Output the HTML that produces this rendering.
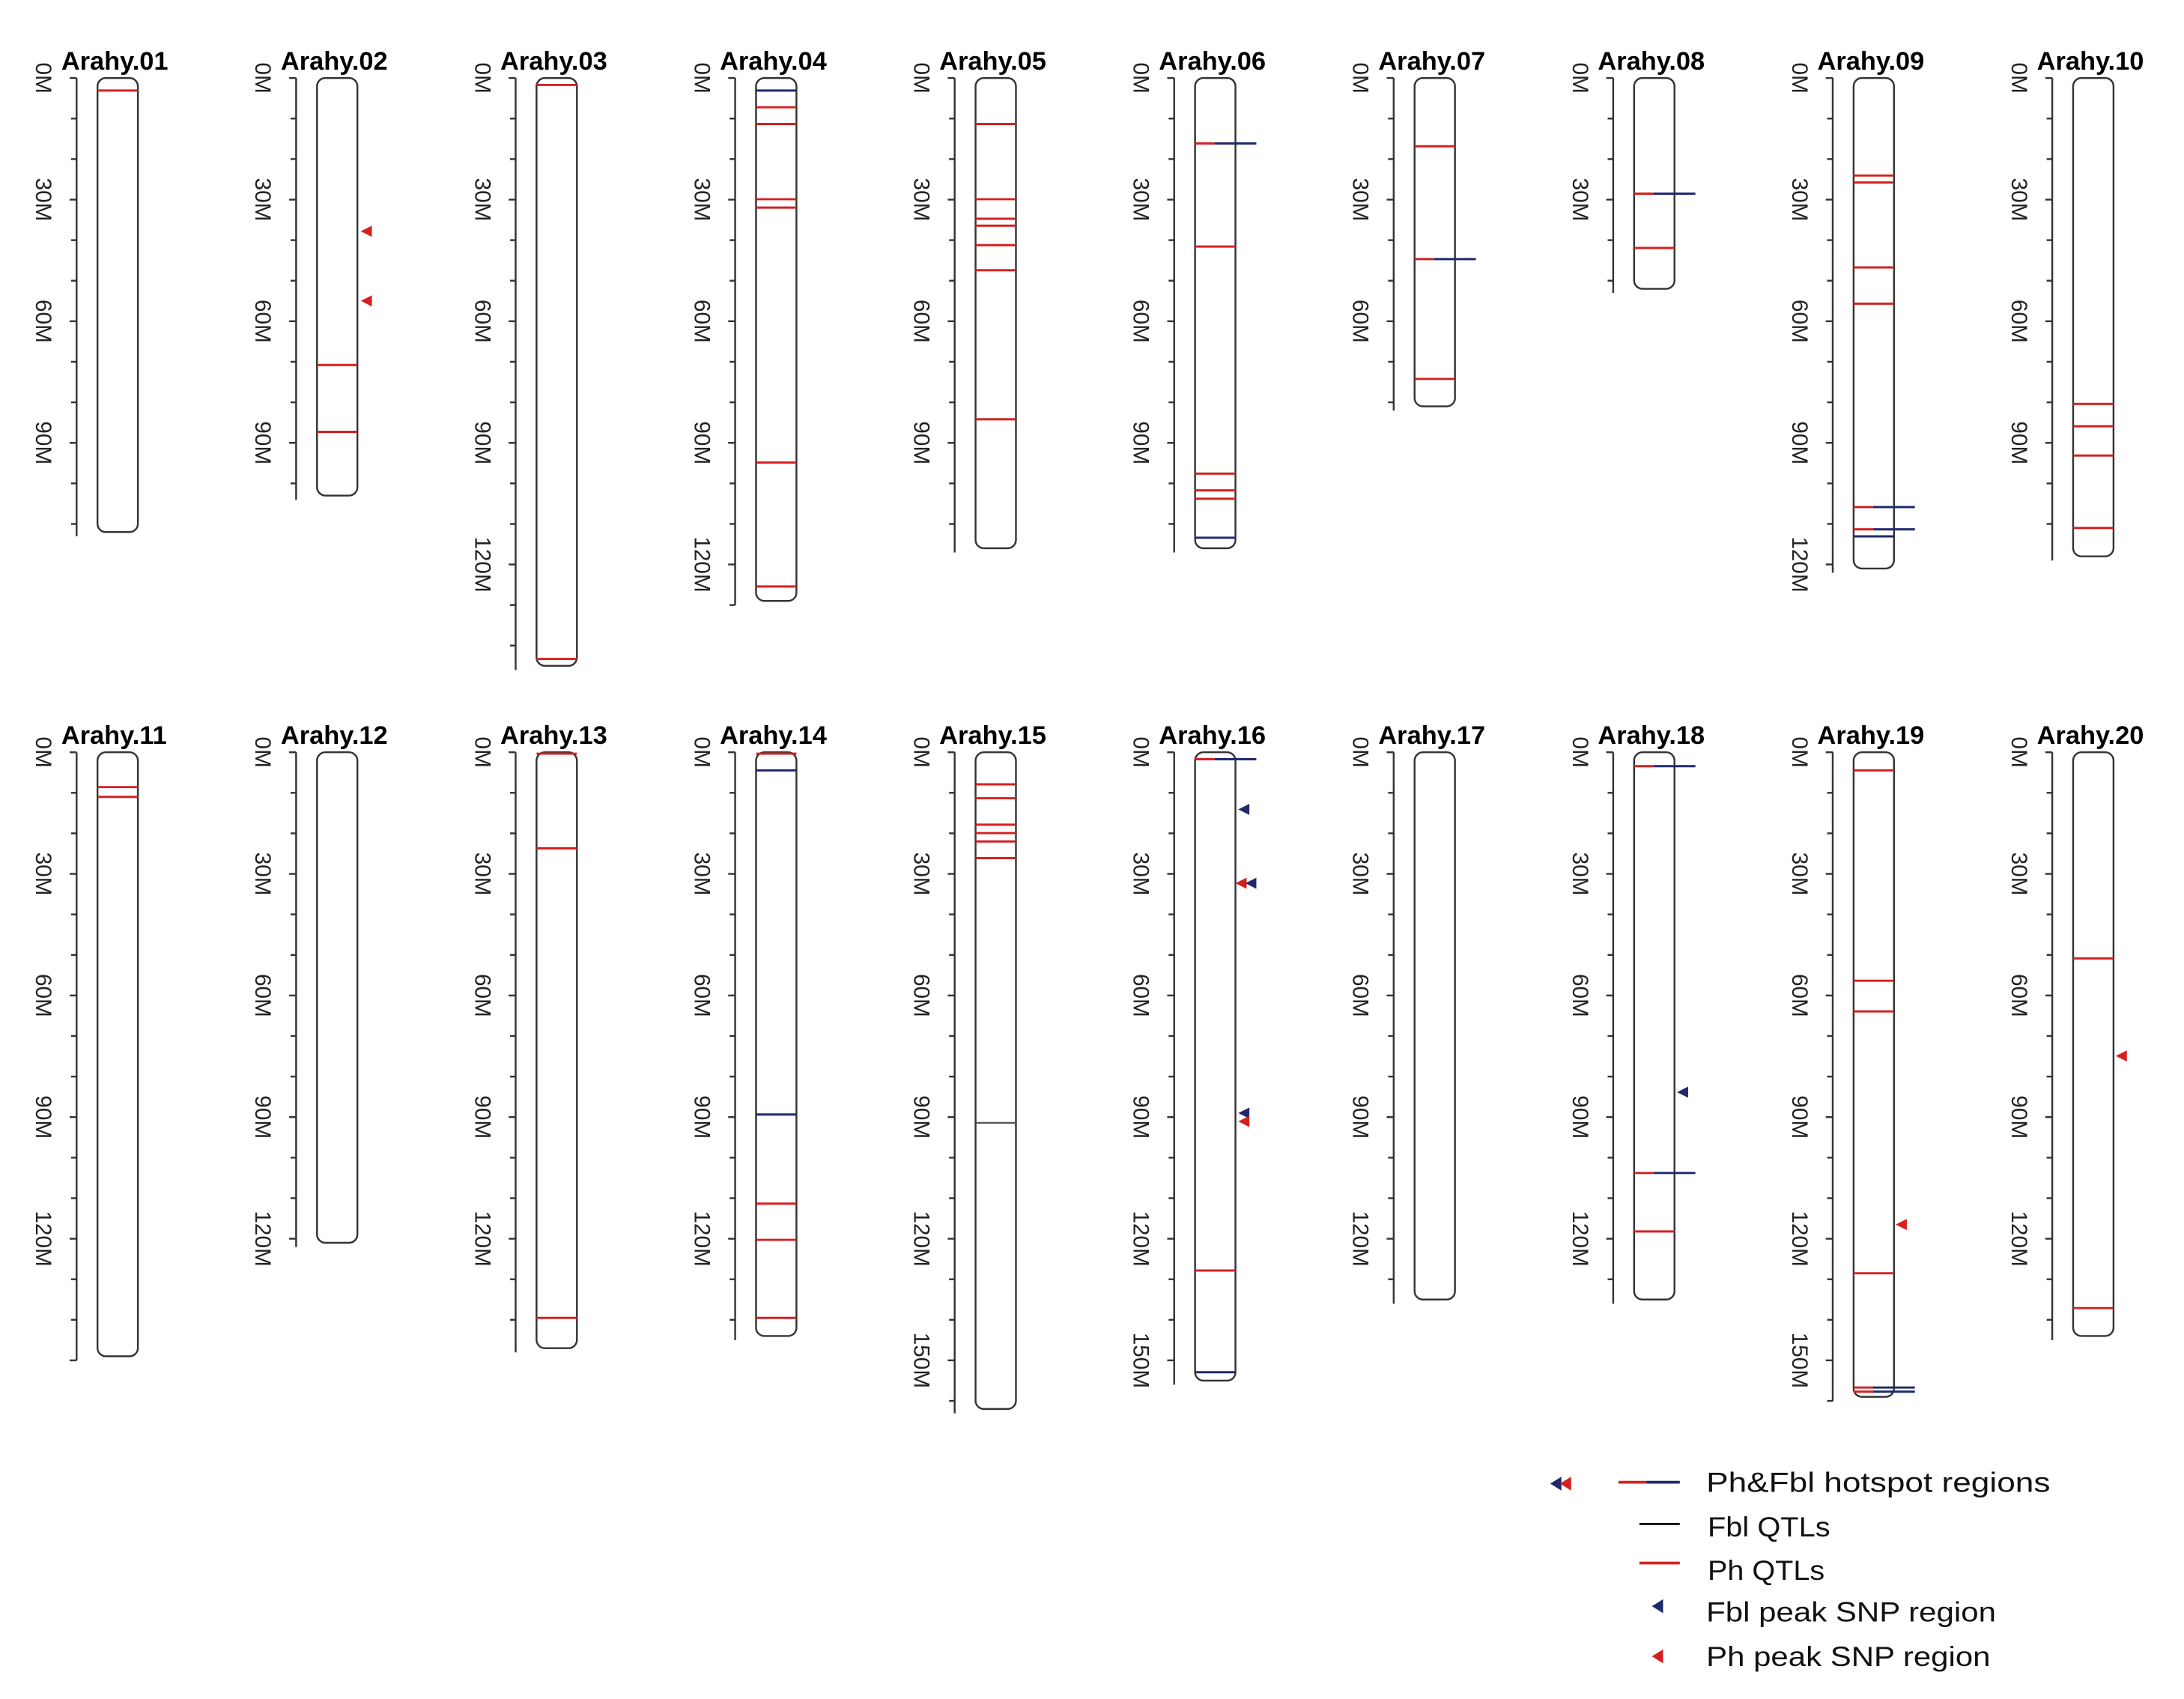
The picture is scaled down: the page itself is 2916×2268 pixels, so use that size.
<!DOCTYPE html>
<html><head><meta charset="utf-8"><style>
html,body{margin:0;padding:0;background:#fff;}
svg{display:block;}
.t{font-family:"Liberation Sans",Arial,sans-serif;font-weight:bold;font-size:18.5px;fill:#000;}
.l{font-family:"Liberation Sans",Arial,sans-serif;font-size:16px;fill:#222;}
.g{font-family:"Liberation Sans",Arial,sans-serif;font-size:20px;fill:#111;}
</style></head><body>
<svg id="s" width="2916" height="2268" viewBox="0 0 1568 1219.6" preserveAspectRatio="none" xmlns="http://www.w3.org/2000/svg">
<rect width="1568" height="1220" fill="#fff"/>
<g id="shapes"></g>
<text class="t" x="44" y="50">Arahy.01</text>
<text class="t" x="201.6" y="50">Arahy.02</text>
<text class="t" x="359.2" y="50">Arahy.03</text>
<text class="t" x="516.8" y="50">Arahy.04</text>
<text class="t" x="674.4" y="50">Arahy.05</text>
<text class="t" x="832" y="50">Arahy.06</text>
<text class="t" x="989.6" y="50">Arahy.07</text>
<text class="t" x="1147.2" y="50">Arahy.08</text>
<text class="t" x="1304.8" y="50">Arahy.09</text>
<text class="t" x="1462.4" y="50">Arahy.10</text>
<text class="t" x="44" y="534">Arahy.11</text>
<text class="t" x="201.6" y="534">Arahy.12</text>
<text class="t" x="359.2" y="534">Arahy.13</text>
<text class="t" x="516.8" y="534">Arahy.14</text>
<text class="t" x="674.4" y="534">Arahy.15</text>
<text class="t" x="832" y="534">Arahy.16</text>
<text class="t" x="989.6" y="534">Arahy.17</text>
<text class="t" x="1147.2" y="534">Arahy.18</text>
<text class="t" x="1304.8" y="534">Arahy.19</text>
<text class="t" x="1462.4" y="534">Arahy.20</text>
<g class="l" text-anchor="middle" dominant-baseline="central">
<text transform="translate(31,56) rotate(90)">0M</text><text transform="translate(31,143.3) rotate(90)">30M</text><text transform="translate(31,230.6) rotate(90)">60M</text><text transform="translate(31,317.9) rotate(90)">90M</text>
<text transform="translate(188.6,56) rotate(90)">0M</text><text transform="translate(188.6,143.3) rotate(90)">30M</text><text transform="translate(188.6,230.6) rotate(90)">60M</text><text transform="translate(188.6,317.9) rotate(90)">90M</text>
<text transform="translate(346.2,56) rotate(90)">0M</text><text transform="translate(346.2,143.3) rotate(90)">30M</text><text transform="translate(346.2,230.6) rotate(90)">60M</text><text transform="translate(346.2,317.9) rotate(90)">90M</text><text transform="translate(346.2,405.2) rotate(90)">120M</text>
<text transform="translate(503.8,56) rotate(90)">0M</text><text transform="translate(503.8,143.3) rotate(90)">30M</text><text transform="translate(503.8,230.6) rotate(90)">60M</text><text transform="translate(503.8,317.9) rotate(90)">90M</text><text transform="translate(503.8,405.2) rotate(90)">120M</text>
<text transform="translate(661.4,56) rotate(90)">0M</text><text transform="translate(661.4,143.3) rotate(90)">30M</text><text transform="translate(661.4,230.6) rotate(90)">60M</text><text transform="translate(661.4,317.9) rotate(90)">90M</text>
<text transform="translate(819,56) rotate(90)">0M</text><text transform="translate(819,143.3) rotate(90)">30M</text><text transform="translate(819,230.6) rotate(90)">60M</text><text transform="translate(819,317.9) rotate(90)">90M</text>
<text transform="translate(976.6,56) rotate(90)">0M</text><text transform="translate(976.6,143.3) rotate(90)">30M</text><text transform="translate(976.6,230.6) rotate(90)">60M</text>
<text transform="translate(1134.2,56) rotate(90)">0M</text><text transform="translate(1134.2,143.3) rotate(90)">30M</text>
<text transform="translate(1291.8,56) rotate(90)">0M</text><text transform="translate(1291.8,143.3) rotate(90)">30M</text><text transform="translate(1291.8,230.6) rotate(90)">60M</text><text transform="translate(1291.8,317.9) rotate(90)">90M</text><text transform="translate(1291.8,405.2) rotate(90)">120M</text>
<text transform="translate(1449.4,56) rotate(90)">0M</text><text transform="translate(1449.4,143.3) rotate(90)">30M</text><text transform="translate(1449.4,230.6) rotate(90)">60M</text><text transform="translate(1449.4,317.9) rotate(90)">90M</text>
<text transform="translate(31,540) rotate(90)">0M</text><text transform="translate(31,627.3) rotate(90)">30M</text><text transform="translate(31,714.6) rotate(90)">60M</text><text transform="translate(31,801.9) rotate(90)">90M</text><text transform="translate(31,889.2) rotate(90)">120M</text>
<text transform="translate(188.6,540) rotate(90)">0M</text><text transform="translate(188.6,627.3) rotate(90)">30M</text><text transform="translate(188.6,714.6) rotate(90)">60M</text><text transform="translate(188.6,801.9) rotate(90)">90M</text><text transform="translate(188.6,889.2) rotate(90)">120M</text>
<text transform="translate(346.2,540) rotate(90)">0M</text><text transform="translate(346.2,627.3) rotate(90)">30M</text><text transform="translate(346.2,714.6) rotate(90)">60M</text><text transform="translate(346.2,801.9) rotate(90)">90M</text><text transform="translate(346.2,889.2) rotate(90)">120M</text>
<text transform="translate(503.8,540) rotate(90)">0M</text><text transform="translate(503.8,627.3) rotate(90)">30M</text><text transform="translate(503.8,714.6) rotate(90)">60M</text><text transform="translate(503.8,801.9) rotate(90)">90M</text><text transform="translate(503.8,889.2) rotate(90)">120M</text>
<text transform="translate(661.4,540) rotate(90)">0M</text><text transform="translate(661.4,627.3) rotate(90)">30M</text><text transform="translate(661.4,714.6) rotate(90)">60M</text><text transform="translate(661.4,801.9) rotate(90)">90M</text><text transform="translate(661.4,889.2) rotate(90)">120M</text><text transform="translate(661.4,976.5) rotate(90)">150M</text>
<text transform="translate(819,540) rotate(90)">0M</text><text transform="translate(819,627.3) rotate(90)">30M</text><text transform="translate(819,714.6) rotate(90)">60M</text><text transform="translate(819,801.9) rotate(90)">90M</text><text transform="translate(819,889.2) rotate(90)">120M</text><text transform="translate(819,976.5) rotate(90)">150M</text>
<text transform="translate(976.6,540) rotate(90)">0M</text><text transform="translate(976.6,627.3) rotate(90)">30M</text><text transform="translate(976.6,714.6) rotate(90)">60M</text><text transform="translate(976.6,801.9) rotate(90)">90M</text><text transform="translate(976.6,889.2) rotate(90)">120M</text>
<text transform="translate(1134.2,540) rotate(90)">0M</text><text transform="translate(1134.2,627.3) rotate(90)">30M</text><text transform="translate(1134.2,714.6) rotate(90)">60M</text><text transform="translate(1134.2,801.9) rotate(90)">90M</text><text transform="translate(1134.2,889.2) rotate(90)">120M</text>
<text transform="translate(1291.8,540) rotate(90)">0M</text><text transform="translate(1291.8,627.3) rotate(90)">30M</text><text transform="translate(1291.8,714.6) rotate(90)">60M</text><text transform="translate(1291.8,801.9) rotate(90)">90M</text><text transform="translate(1291.8,889.2) rotate(90)">120M</text><text transform="translate(1291.8,976.5) rotate(90)">150M</text>
<text transform="translate(1449.4,540) rotate(90)">0M</text><text transform="translate(1449.4,627.3) rotate(90)">30M</text><text transform="translate(1449.4,714.6) rotate(90)">60M</text><text transform="translate(1449.4,801.9) rotate(90)">90M</text><text transform="translate(1449.4,889.2) rotate(90)">120M</text>
</g>
<polygon points="1113,1065 1121,1060 1121,1070" fill="#1f2a6e"/>
<polygon points="1120,1065 1128,1060 1128,1070" fill="#d62020"/>
<line x1="1162" y1="1064" x2="1182" y2="1064" stroke="#d62020" stroke-width="2"/>
<line x1="1182" y1="1064" x2="1206" y2="1064" stroke="#1f2a6e" stroke-width="2"/>
<line x1="1177" y1="1094" x2="1206" y2="1094" stroke="#111" stroke-width="1.5"/>
<line x1="1177" y1="1122" x2="1206" y2="1122" stroke="#d62020" stroke-width="2"/>
<polygon points="1186,1153 1194,1148 1194,1158" fill="#1f2a6e"/>
<polygon points="1186,1189 1194,1184 1194,1194" fill="#d62020"/>
<text class="g" x="1225" y="1071" textLength="247" lengthAdjust="spacingAndGlyphs">Ph&amp;Fbl hotspot regions</text>
<text class="g" x="1226" y="1103" textLength="88" lengthAdjust="spacingAndGlyphs">Fbl QTLs</text>
<text class="g" x="1226" y="1134" textLength="84" lengthAdjust="spacingAndGlyphs">Ph QTLs</text>
<text class="g" x="1225" y="1164" textLength="208" lengthAdjust="spacingAndGlyphs">Fbl peak SNP region</text>
<text class="g" x="1225" y="1196" textLength="204" lengthAdjust="spacingAndGlyphs">Ph peak SNP region</text>
</svg>
<script>
(function(){
var NS="http://www.w3.org/2000/svg",g=document.getElementById("shapes");
function el(t,a){var e=document.createElementNS(NS,t);for(var k in a)e.setAttribute(k,a[k]);g.appendChild(e);return e;}
var R="#d62020",B="#1f2a6e",K="#333";
var S=2.91;
var C=[
 [112,0,[[65,'r']],[]],
 [103,0,[[262,'r'],[310,'r']],[[263,166,R],[263,216,R]]],
 [145,0,[[61,'r'],[473,'r']],[]],
 [129,0,[[65,'b'],[77,'r'],[89,'r'],[143,'r'],[149,'r'],[332,'r'],[421,'r']],[]],
 [116,0,[[89,'r'],[143,'r'],[157,'r'],[162,'r'],[176,'r'],[194,'r'],[301,'r']],[]],
 [116,0,[[103,'h'],[177,'r'],[340,'r'],[352,'r'],[358,'r'],[386,'b']],[]],
 [81,0,[[105,'r'],[186,'h'],[272,'r']],[]],
 [52,0,[[139,'h'],[178,'r']],[]],
 [121,0,[[126,'r'],[131,'r'],[192,'r'],[218,'r'],[364,'h'],[380,'h'],[385,'b']],[]],
 [118,0,[[290,'r'],[306,'r'],[327,'r'],[379,'r']],[]],
 [149,1,[[565,'r'],[572,'r']],[]],
 [121,1,[],[]],
 [147,1,[[541,'r'],[609,'r'],[946,'r']],[]],
 [144,1,[[541,'r'],[553,'b'],[800,'b'],[864,'r'],[890,'r'],[946,'r']],[]],
 [162,1,[[563,'r'],[573,'r'],[592,'r'],[598,'r'],[604,'r'],[616,'r'],[806,'k']],[]],
 [155,1,[[545,'h'],[912,'r'],[985,'b']],[[893,581,B],[891,634,R],[898,634,B],[893,799,B],[893,805,R]]],
 [135,1,[],[]],
 [135,1,[[550,'h'],[842,'h'],[884,'r']],[[1208,784,B]]],
 [159,1,[[553,'r'],[704,'r'],[726,'r'],[914,'r'],[996,'h'],[999,'h']],[[1365,879,R]]],
 [144,1,[[688,'r'],[939,'r']],[[1523,758,R]]]
];
C.forEach(function(c,i){
 var col=i%10, ax=55+157.6*col, top=c[1]?540:56, len=c[0], bot=top+len*S;
 el('line',{x1:ax,y1:top,x2:ax,y2:bot+3,stroke:K,'stroke-width':1.3});
 for(var m=0;m<=len+1;m+=10){var y=top+m*S; if(y>bot+3)break; el('line',{x1:ax-(m%30==0?5:4),y1:y,x2:ax,y2:y,stroke:K,'stroke-width':1.3});}
 var bl=ax+15,bw=29;
 el('rect',{x:bl,y:top,width:bw,height:bot-top,rx:6,ry:6,fill:'#fff',stroke:K,'stroke-width':1.3});
 c[2].forEach(function(mk){
  var y=mk[0],t=mk[1];
  if(t=='r')el('line',{x1:bl,y1:y,x2:bl+bw,y2:y,stroke:R,'stroke-width':1.6});
  else if(t=='b')el('line',{x1:bl,y1:y,x2:bl+bw,y2:y,stroke:B,'stroke-width':1.6});
  else if(t=='k')el('line',{x1:bl,y1:y,x2:bl+bw,y2:y,stroke:'#555','stroke-width':1.2});
  else {el('line',{x1:bl,y1:y,x2:bl+14,y2:y,stroke:R,'stroke-width':1.6});el('line',{x1:bl+14,y1:y,x2:bl+bw+15,y2:y,stroke:B,'stroke-width':1.6});}
 });
 c[3].forEach(function(t){el('polygon',{points:(t[0]-4)+','+t[1]+' '+(t[0]+4)+','+(t[1]-4)+' '+(t[0]+4)+','+(t[1]+4),fill:t[2]});});
});
})();
</script>
</body></html>
